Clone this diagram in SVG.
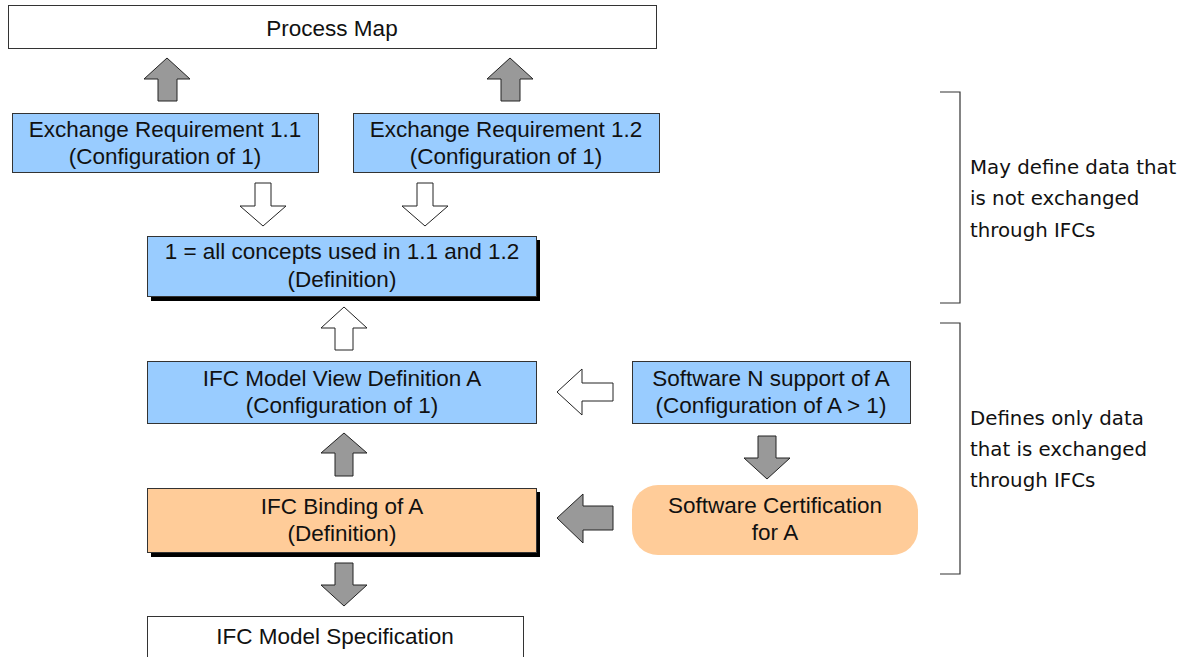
<svg xmlns="http://www.w3.org/2000/svg" width="1187" height="657" viewBox="0 0 1187 657">
  <style>
    .box-white { fill: #ffffff; stroke: #333333; stroke-width: 1; }
    .box-blue { fill: #99ccff; stroke: #333333; stroke-width: 1; }
    .box-orange { fill: #ffcc99; stroke: #333333; stroke-width: 1; }
    .shadow { fill: #000000; }
    .label { font-family: "Liberation Sans", Arial, sans-serif; font-size: 22.5px; fill: #111111; text-anchor: middle; }
    .note { font-family: "DejaVu Sans", Verdana, sans-serif; font-size: 19.8px; fill: #111111; }
    .arrow-gray { fill: #999999; stroke: #222222; stroke-width: 1; stroke-linejoin: miter; }
    .arrow-white { fill: #ffffff; stroke: #222222; stroke-width: 1; stroke-linejoin: miter; }
    .bracket { fill: none; stroke: #333333; stroke-width: 1.2; }
  </style>

  <!-- Top level -->
  <g id="process-map">
    <rect class="box-white" x="8.5" y="5.5" width="648" height="43"/>
    <text class="label" x="332" y="36">Process Map</text>
  </g>

  <g id="exchange-req-1-1">
    <rect class="box-blue" x="12.5" y="113.5" width="306" height="59"/>
    <text class="label" x="165" y="137">Exchange Requirement 1.1</text>
    <text class="label" x="165" y="164">(Configuration of 1)</text>
  </g>

  <g id="exchange-req-1-2">
    <rect class="box-blue" x="353.5" y="113.5" width="306" height="59"/>
    <text class="label" x="506" y="137">Exchange Requirement 1.2</text>
    <text class="label" x="506" y="164">(Configuration of 1)</text>
  </g>

  <g id="concept-definition">
    <rect class="shadow" x="151" y="240" width="389" height="61"/>
    <rect class="box-blue" x="147.5" y="236.5" width="389" height="60"/>
    <text class="label" x="342" y="259">1 = all concepts used in 1.1 and 1.2</text>
    <text class="label" x="342" y="287">(Definition)</text>
  </g>

  <g id="model-view-definition">
    <rect class="box-blue" x="147.5" y="361.5" width="389" height="62"/>
    <text class="label" x="342" y="386">IFC Model View Definition A</text>
    <text class="label" x="342" y="413">(Configuration of 1)</text>
  </g>

  <g id="software-support">
    <rect class="box-blue" x="632.5" y="361.5" width="278" height="62"/>
    <text class="label" x="771" y="386">Software N support of A</text>
    <text class="label" x="771" y="413">(Configuration of A &gt; 1)</text>
  </g>

  <g id="ifc-binding">
    <rect class="shadow" x="151" y="492" width="389" height="65"/>
    <rect class="box-orange" x="147.5" y="488.5" width="389" height="64"/>
    <text class="label" x="342" y="514">IFC Binding of A</text>
    <text class="label" x="342" y="541">(Definition)</text>
  </g>

  <g id="software-certification">
    <rect x="632" y="485" width="286" height="70" rx="26" ry="26" fill="#ffcc99"/>
    <text class="label" x="775" y="513">Software Certification</text>
    <text class="label" x="775" y="540">for A</text>
  </g>

  <g id="model-specification">
    <rect class="box-white" x="147.5" y="616.5" width="376" height="60"/>
    <text class="label" x="335" y="644">IFC Model Specification</text>
  </g>

  <!-- Brackets with scope notes -->
  <g id="scope-upper">
    <polyline class="bracket" points="940,92 960,92 960,303 940,303"/>
    <text class="note" x="970" y="174">May define data that</text>
    <text class="note" x="970" y="205">is not exchanged</text>
    <text class="note" x="970" y="237">through IFCs</text>
  </g>

  <g id="scope-lower">
    <polyline class="bracket" points="940,323 960,323 960,574 940,574"/>
    <text class="note" x="970" y="425">Defines only data</text>
    <text class="note" x="970" y="456">that is exchanged</text>
    <text class="note" x="970" y="487">through IFCs</text>
  </g>

  <!-- Connectors (block arrows) -->
  <g id="connectors">
    <!-- ER 1.1 -> Process Map -->
    <polygon class="arrow-gray" points="167,58 190,79 177,79 177,101 158,101 158,79 144,79"/>
    <!-- ER 1.2 -> Process Map -->
    <polygon class="arrow-gray" points="510,58 533,79 520,79 520,101 501,101 501,79 487,79"/>
    <!-- ER 1.1 -> Definition -->
    <polygon class="arrow-white" points="255,183 271,183 271,206 286,206 263,226 240,206 255,206"/>
    <!-- ER 1.2 -> Definition -->
    <polygon class="arrow-white" points="417,183 433,183 433,206 448,206 425,226 402,206 417,206"/>
    <!-- MVD -> Definition -->
    <polygon class="arrow-white" points="344,307 367,328 353,328 353,350 335,350 335,328 321,328"/>
    <!-- Software support -> MVD -->
    <polygon class="arrow-white" points="557,392 582,369 582,383 613,383 613,401 582,401 582,415"/>
    <!-- Binding -> MVD -->
    <polygon class="arrow-gray" points="344,433 367,453 353,453 353,476 335,476 335,453 321,453"/>
    <!-- Software support -> Certification -->
    <polygon class="arrow-gray" points="758,436 776,436 776,458 790,458 767,479 744,458 758,458"/>
    <!-- Certification -> Binding -->
    <polygon class="arrow-gray" points="557,518 583,494 583,506 613,506 613,530 583,530 583,543"/>
    <!-- Binding -> Model Specification -->
    <polygon class="arrow-gray" points="335,563 353,563 353,585 367,585 344,606 321,585 335,585"/>
  </g>
</svg>
